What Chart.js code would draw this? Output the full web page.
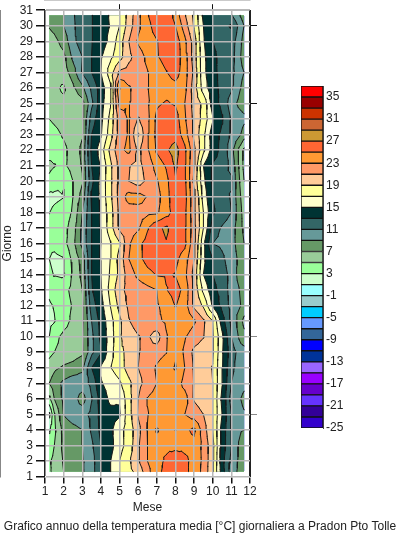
<!DOCTYPE html>
<html>
<head>
<meta charset="utf-8">
<title>Temperatura media giornaliera</title>
<script src="https://cdn.jsdelivr.net/npm/chart.js@4"></script>
<style>
  html, body { margin: 0; padding: 0; background: #fff; width: 400px; height: 537px; overflow: hidden; }
  #mappa { position: absolute; left: 0; top: 0; }
  #scala { position: absolute; left: 280px; top: 70px; }
</style>
</head>
<body>
<canvas id="mappa" width="400" height="537"></canvas>
<canvas id="scala" width="100" height="380"></canvas>
<script>
// Griglia delle temperature: una riga per giorno, una colonna per nodo del mese
const monthNodes = [1.23,1.5,2,2.5,3,3.5,4,4.5,5,5.5,6,6.5,7,7.5,8,8.5,9,9.5,10,10.5,11,11.5,11.68];
const dayNodes = [1.32,2,3,4,5,6,7,8,9,10,11,12,13,14,15,16,17,18,19,20,21,22,23,24,25,26,27,28,29,30,30.68];
const temperature = [
  [4.7,5.6,7,8,8.8,10,13,14.9,17,18.5,19.6,22.4,24.4,25.6,26,25.6,24,22.5,19.2,14,10,8.3,8],
  [4.8,5.4,7.2,8,8.8,10,13.1,14.9,17,18.7,20.8,23,24,25.5,27.02,25.6,24.2,22.6,19.4,13.7,10.5,8.3,7.8],
  [4,5,7.6,8,9,10.6,13,14.2,16.3,17.8,20.7,23,24.2,24.3,24.1,24.3,24.4,22.5,19.6,14.3,11,8.3,7],
  [2.7,4.5,7.7,8.4,9,11.3,13.5,14.5,16.4,17.8,20.3,23.1,25.2,24.2,25.03,24.6,25.4,22,19,14.2,10.9,9.2,9],
  [0.5,4.8,9.1,10,10.3,11.5,13.6,14.4,14.7,18.3,21.2,22.9,23.6,24,24.3,23,22,21,19,15,11,9.5,9.2],
  [4.5,7,9.5,10,8,10.9,13.8,15.4,15.2,18.3,21,23.1,23.8,24.2,24.3,23.9,20.8,20,19,14.5,10.2,9,8.5],
  [7,8,9.5,10.3,10.2,11.5,14.8,15.8,16.7,18.5,20.4,21.8,23,23.7,24.2,22.3,20.9,20,19,15.1,11,9.8,9.5],
  [5.9,6.6,7.3,7.7,8.5,13,15.3,16.9,18,19.9,21,21.8,23.3,24.3,25.2,23,20.8,19.9,18.9,15,11.5,9.8,9.5],
  [4.4,5,5.6,6,6.6,10.5,12.8,16.3,18.3,19.8,20.9,21.5,22.1,22.9,24.7,22.6,20.5,20,19.3,15.3,12,10,10],
  [3,4.4,5.5,5.9,6.8,10.5,13.5,16,18.7,20.2,20.9,21.3,20,22.8,24.2,23.2,22,21.1,19.3,15.5,11,8.3,7.5],
  [2.6,2.9,4.2,5.5,6.5,11,13.7,16.2,18.6,20.9,21.8,22.2,22.6,23.3,24.1,24.4,23.3,21.3,19,14,10.5,7.5,6.5],
  [2.8,3.1,4,5.2,6.5,12,14.3,17,19.6,21.4,21.8,22.3,22.8,23.6,25.1,24,20.5,18.7,14.7,12.4,10.4,9,8],
  [3.3,3.8,4.3,5.6,7,12.8,14.8,17.6,20.4,21.6,21.9,22.4,23,24.9,25.8,24.4,20.5,16.5,13.6,12.3,10.2,8.8,7.5],
  [3.4,2.9,2.7,5.3,7.5,13,15,17.2,19.5,22,23.5,24.5,25.1,25.2,24.9,23.5,20.3,15,13,12,10.3,8,7],
  [3,2.5,2.9,5.6,7.8,13,15.2,17,19.7,23,24.5,25.6,26,26.5,25.5,24,21,15.5,13,11.5,9.8,8.5,7.5],
  [3.3,3.6,4.3,6.4,9.6,13,15,16.8,18.8,22.7,24.5,25.7,26.2,26.9,26.3,25.5,21.5,15.5,11,10.5,9.7,8,7],
  [3.5,3.8,4.2,6,9.5,13,15.2,18,21.5,22,22.7,24.8,26.6,27.3,26.2,25.4,21.8,17,12,10.8,10,7.5,6.5],
  [2.95,3.4,3.8,5.3,9,13,15.3,18,21.5,22,22.3,22.5,22.7,24.1,26,25.5,21.5,17,13.3,12.2,11,7.5,6],
  [2.4,2.6,2.95,5,7.8,13.3,15.5,18.5,21.8,23.8,23.7,22.9,22.3,24,27.02,25.8,21.5,16.2,13,12,10.8,7,5.5],
  [4.5,3.8,3.05,5,6.8,12.5,15.6,18.5,21.5,21,20,21.5,22.8,24.4,26.85,25.5,20.5,15.5,12.6,11,11.3,6.5,5],
  [5.5,5.1,4.6,5.8,7.2,13,15.2,18.5,21.5,21.1,20.5,21.7,23.8,25.2,27.3,25.3,21,15,12.8,12.3,10.5,6,4.5],
  [4,4.2,4.6,5.6,7.5,13.5,16,19.5,22.5,23.5,20.5,22.7,25.3,26.7,27.8,25.5,21.5,17.5,14,12.4,9.8,6,4.5],
  [4.3,4.5,5.2,5.9,6.8,13,14.8,18,22,23.2,18.8,22.8,25.6,26,26.3,24,20.5,17.5,13.9,12.6,10.7,9,8],
  [5,5.3,5.7,6,6.6,12,14.5,17.5,22,23.2,20.8,22.5,25.5,26.3,26,23.3,20.5,18.3,15.2,13.2,10.8,10,9.5],
  [5.7,5.6,5.4,5.6,6.2,10.5,14.2,16.8,23.5,23.1,22.3,22.7,24.7,25.2,24.8,23,20.2,18.5,14,12.5,10,8.2,8],
  [5.6,5.4,4.7,6.6,8.5,11.5,14,16.5,25.2,23.2,22.3,22.9,23.6,24.2,24.4,23.6,20,16,13.8,12.4,11.3,9,7.5],
  [5.5,5.5,6,8,11.2,13,15,18,21.3,21.8,22.2,22.9,24,24.9,25.8,24,20.5,15.5,13.6,12.3,11.5,10,9],
  [5.5,5.7,6.5,9.5,11,13,14.8,16.5,18.2,20.5,22,23.5,24.8,25.7,26.3,24,20,15.5,13.5,12.3,11.8,9,7],
  [6,6.4,7.8,10.5,12,12.9,14,15.5,18,21,23.3,24.3,24.9,26.3,26.2,23.5,20,15.2,13,12.3,12,9.5,8],
  [7.2,7.7,9,10.7,12,12.9,14.2,15.1,17,20,22.5,24.5,25.8,26.5,25,22,18.8,15,13,12.5,13.2,10,9],
  [7.5,8,9,10.8,12,12.9,14,15.2,17,19.8,22.5,24.9,26,26.8,24.2,21.2,18.5,14.5,13,12.2,11.2,8.8,8]
];

// Fasce della scala: limite inferiore e colore, ogni fascia vale 2 gradi
const bandFloors = [-25,-23,-21,-19,-17,-15,-13,-11,-9,-7,-5,-3,-1,1,3,5,7,9,11,13,15,17,19,21,23,25,27,29,31,33,35];
const bandColors = ['#3300cc','#330099','#6633ff','#6600cc','#9900ff','#9966ff','#003399','#0000ff','#336699','#6699ff','#00ccff','#99cccc','#99ffff','#ccffcc','#99ff99','#99cc99','#669966','#669999','#336666','#003333','#ffffcc','#ffff99','#ffcc99','#ff9966','#ff9933','#ff6633','#cc9933','#cc6633','#cc3300','#990000','#ff0000'];
const scaleTicks = [-25,-21,-17,-13,-9,-5,-1,3,7,11,15,19,23,27,31,35];
const frameTicksMonth = [5,10];
const frameTicksDay = [5,10,15,20,25,30];
const caption = 'Grafico annuo della temperatura media [°C] giornaliera a Pradon Pto Tolle';

const FONT = 'Liberation Sans';
const GRID_GRAY = '#b8b8b8';
const TEXT = '#222';

// Ogni cella viene divisa in 4 triangoli attorno al centro
function cellTriangles(){
  const out = [];
  for(let r = 0; r < dayNodes.length - 1; r++){
    for(let c = 0; c < monthNodes.length - 1; c++){
      const a = {x:monthNodes[c],   y:dayNodes[r],   z:temperature[r][c]};
      const b = {x:monthNodes[c+1], y:dayNodes[r],   z:temperature[r][c+1]};
      const d = {x:monthNodes[c+1], y:dayNodes[r+1], z:temperature[r+1][c+1]};
      const e = {x:monthNodes[c],   y:dayNodes[r+1], z:temperature[r+1][c]};
      const m = {x:(a.x+b.x)/2, y:(a.y+e.y)/2, z:(a.z+b.z+d.z+e.z)/4};
      out.push([a,b,m],[b,d,m],[d,e,m],[e,a,m]);
    }
  }
  return out;
}
const triangles = cellTriangles();

function cross(p, q, level){
  const t = (level - p.z) / (q.z - p.z);
  return {x:p.x + t*(q.x-p.x), y:p.y + t*(q.y-p.y)};
}

// Parte del triangolo con temperatura >= level
function clipTriangle(tri, level){
  const poly = [];
  for(let i = 0; i < 3; i++){
    const p = tri[i], q = tri[(i+1)%3];
    const pIn = p.z >= level, qIn = q.z >= level;
    if(pIn) poly.push(p);
    if(pIn !== qIn) poly.push(cross(p, q, level));
  }
  return poly;
}

// Isoterma come spezzata con buchi, per un dataset a linea
function isoline(level){
  const pts = [];
  triangles.forEach(tri => {
    const hits = [];
    for(let i = 0; i < 3; i++){
      const p = tri[i], q = tri[(i+1)%3];
      if((p.z >= level) !== (q.z >= level)) hits.push(cross(p, q, level));
    }
    if(hits.length === 2) pts.push(hits[0], hits[1], {x:null, y:null});
  });
  return pts;
}

// Riempie le fasce dal basso verso l'alto usando le scale del grafico
const bandFill = {
  id: 'bandFill',
  beforeDatasetsDraw(chart){
    const {ctx, scales:{x, y}} = chart;
    bandFloors.forEach((level, i) => {
      const path = new Path2D();
      let used = false;
      triangles.forEach(tri => {
        const poly = clipTriangle(tri, level);
        if(poly.length < 3) return;
        used = true;
        poly.forEach((p, k) => {
          const px = x.getPixelForValue(p.x), py = y.getPixelForValue(p.y);
          if(k === 0) path.moveTo(px, py); else path.lineTo(px, py);
        });
        path.closePath();
      });
      if(used){ ctx.fillStyle = bandColors[i]; ctx.fill(path); }
    });
  }
};

const isoDatasets = bandFloors.map(level => ({
  data: isoline(level),
  showLine: true,
  pointRadius: 0,
  borderColor: '#1a1a1a',
  borderWidth: 1,
  borderCapStyle: 'round',
  spanGaps: false
})).filter(ds => ds.data.length);

new Chart(document.getElementById('mappa'), {
  type: 'scatter',
  data: { datasets: isoDatasets },
  plugins: [bandFill],
  options: {
    responsive: false,
    animation: false,
    devicePixelRatio: 1,
    layout: { padding: 0 },
    events: [],
    plugins: {
      legend: { display: false },
      tooltip: { enabled: false },
      title: {
        display: true,
        position: 'bottom',
        text: caption,
        color: TEXT,
        font: { family: FONT, size: 12, weight: 'normal' },
        padding: { top: 3, bottom: 3 }
      }
    },
    scales: {
      x: {
        type: 'linear', min: 1, max: 12, position: 'bottom',
        afterFit(s){ s.height = 40; },
        title: { display: true, text: 'Mese', color: TEXT, font: { family: FONT, size: 12 }, padding: { top: 0, bottom: 2 } },
        ticks: { stepSize: 1, autoSkip: false, maxRotation: 0, color: TEXT, font: { family: FONT, size: 12 }, padding: 1 },
        grid: { z: 1, color: c => (c.tick.value === 1 || c.tick.value === 12) ? '#222' : GRID_GRAY, tickColor: '#111', tickLength: 7, lineWidth: 1.5 },
        border: { color: GRID_GRAY, width: 1.5 }
      },
      y: {
        type: 'linear', min: 1, max: 31, position: 'left',
        afterFit(s){ s.width = 45; },
        title: { display: true, text: 'Giorno', color: TEXT, font: { family: FONT, size: 12 }, padding: { top: 0, bottom: 0 } },
        ticks: { stepSize: 1, autoSkip: false, color: TEXT, font: { family: FONT, size: 12 }, padding: 3 },
        grid: { z: 1, color: GRID_GRAY, tickColor: '#111', tickLength: 9, lineWidth: 1.5 },
        border: { color: '#111' }
      },
      xTop: {
        type: 'linear', min: 1, max: 12, position: 'top',
        afterBuildTicks(s){ s.ticks = frameTicksMonth.map(v => ({value:v})); },
        afterFit(s){ s.height = 6; },
        ticks: { callback: () => '', font: { size: 1 }, padding: 0 },
        grid: { drawOnChartArea: false, tickColor: '#111', tickLength: 6 },
        border: { color: GRID_GRAY }
      },
      yRight: {
        type: 'linear', min: 1, max: 31, position: 'right',
        afterBuildTicks(s){ s.ticks = frameTicksDay.map(v => ({value:v})); },
        afterFit(s){ s.width = 150; },
        ticks: { callback: () => '', font: { size: 1 }, padding: 0 },
        grid: { drawOnChartArea: false, tickColor: c => c.tick.value <= 10 ? '#888' : '#111', tickLength: 7 },
        border: { color: '#222' }
      }
    }
  }
});

// Scala dei colori: barre flottanti sovrapposte sulla stessa categoria
new Chart(document.getElementById('scala'), {
  type: 'bar',
  data: {
    labels: [''],
    datasets: bandFloors.map((floor, i) => ({
      data: [[floor, floor + 2]],
      backgroundColor: bandColors[i],
      borderColor: '#111',
      borderWidth: 1,
      borderSkipped: false,
      grouped: false,
      barPercentage: 1,
      categoryPercentage: 1
    }))
  },
  options: {
    responsive: false,
    animation: false,
    devicePixelRatio: 1,
    events: [],
    layout: { padding: { left: 21, top: 16, bottom: 22 } },
    plugins: { legend: { display: false }, tooltip: { enabled: false } },
    scales: {
      x: { display: false },
      y: {
        type: 'linear', min: -25, max: 37, position: 'right',
        afterBuildTicks(s){ s.ticks = scaleTicks.map(v => ({value:v})); },
        afterFit(s){ s.width = 57; },
        ticks: { color: TEXT, font: { family: FONT, size: 12 }, padding: 3 },
        grid: { drawOnChartArea: false, drawTicks: false },
        border: { color: '#444' }
      }
    }
  }
});
</script>
</body>
</html>
